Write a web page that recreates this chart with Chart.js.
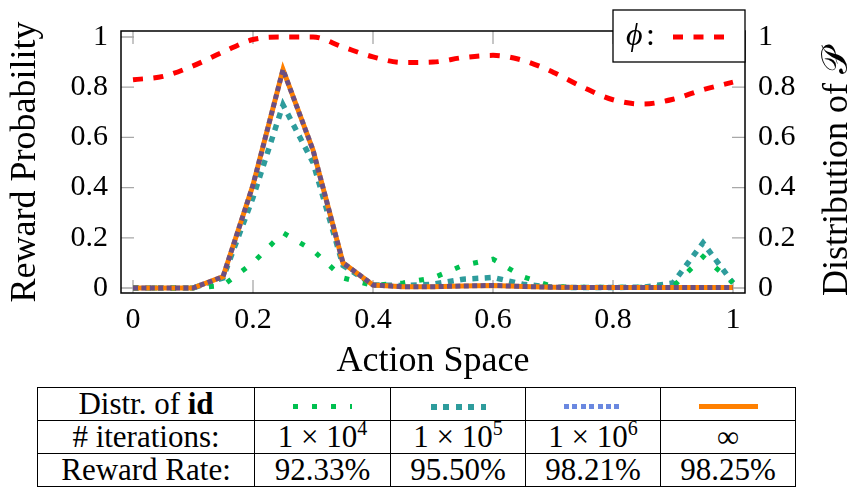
<!DOCTYPE html>
<html>
<head>
<meta charset="utf-8">
<script src="https://cdn.jsdelivr.net/npm/chart.js@4.4.1/dist/chart.umd.min.js"></script>
<style>
  body { margin: 0; background: #fff; width: 853px; height: 493px; overflow: hidden; font-family: "Liberation Serif", serif; }
  #wrap { position: absolute; left: 0; top: 0; width: 853px; height: 385px; }
  #tbl { position: absolute; left: 37px; top: 387px; border-collapse: collapse; font-family: "Liberation Serif", serif; font-size: 31px; }
  #tbl td { border: 1.5px solid #000; height: 32px; padding: 0; text-align: center; line-height: 32px; }
  #tbl sup { font-size: 20px; line-height: 0; vertical-align: 12px; }
  .sample { display: inline-block; vertical-align: middle; }
</style>
</head>
<body>
<div id="wrap"><canvas id="chart"></canvas></div>
<table id="tbl"><tbody></tbody></table>
<script>
// action space samples
const actions = [0, 0.05, 0.1, 0.15, 0.2, 0.25, 0.3, 0.35, 0.4, 0.45, 0.5, 0.55, 0.6, 0.65, 0.7, 0.75, 0.8, 0.85, 0.9, 0.95, 1];

// reward probability phi (right axis)
const phi = [0.83, 0.843, 0.885, 0.94, 0.99, 1.0, 1.0, 0.96, 0.921, 0.898, 0.90, 0.918, 0.927, 0.907, 0.86, 0.80, 0.75, 0.733, 0.752, 0.79, 0.82];

// distribution of id after n iterations
const iter1e4 = [0, 0, 0, 0.01, 0.10, 0.22, 0.15, 0.04, 0.01, 0.02, 0.04, 0.09, 0.115, 0.045, 0.005, 0.003, 0.003, 0.003, 0.005, 0.125, 0.02];
const iter1e5 = [0, 0, 0, 0.04, 0.36, 0.73, 0.50, 0.09, 0.012, 0.01, 0.015, 0.035, 0.042, 0.015, 0.003, 0.002, 0.002, 0.003, 0.02, 0.18, 0.02];
const iter1e6 = [0, 0, 0, 0.045, 0.41, 0.87, 0.55, 0.10, 0.012, 0.005, 0.005, 0.008, 0.01, 0.006, 0.003, 0.002, 0.002, 0.002, 0.002, 0.002, 0.002];
const iterInf = [0, 0, 0, 0.045, 0.41, 0.87, 0.55, 0.10, 0.012, 0.005, 0.005, 0.008, 0.01, 0.006, 0.003, 0.002, 0.002, 0.002, 0.002, 0.002, 0.002];

const tickValues = [0, 0.2, 0.4, 0.6, 0.8, 1];
const tickLabels = ["0", "0.2", "0.4", "0.6", "0.8", "1"];

// table
const iterationLabels = ["1 × 10<sup>4</sup>", "1 × 10<sup>5</sup>", "1 × 10<sup>6</sup>", "∞"];
const rewardRates = ["92.33%", "95.50%", "98.21%", "98.25%"];

const serif = "'Liberation Serif', serif";
const toPts = arr => arr.map((v, i) => ({ x: actions[i], y: v }));

const series = [
  { label: "phi", data: phi, color: "#ff0000", width: 5, dash: [10, 10.5], axis: "y2", order: 0, smooth: true },
  { label: "1e6", data: iter1e6, color: "rgba(50,60,180,0.72)", width: 5, dash: [5, 3.4], axis: "y", order: 1 },
  { label: "inf", data: iterInf, color: "#ff8000", width: 5, dash: [], axis: "y", order: 2 },
  { label: "1e4", data: iter1e4, color: "#00c050", width: 5, dash: [5, 14], axis: "y", order: 3 },
  { label: "1e5", data: iter1e5, color: "#2e9c9c", width: 5.5, dash: [6, 6.4], axis: "y", order: 4 }
];

function fixedTicks(scale) {
  scale.ticks = tickValues.map(v => ({ value: v }));
}

const frame = {
  id: "frame",
  beforeDatasetsDraw(chart) {
    const { ctx, chartArea: a, scales } = chart;
    ctx.save();
    ctx.strokeStyle = "#a8a8a8";
    ctx.lineWidth = 1.3;
    ctx.beginPath();
    tickValues.forEach(v => {
      const x = scales.x.getPixelForValue(v);
      ctx.moveTo(x, a.top); ctx.lineTo(x, a.top + 13);
      ctx.moveTo(x, a.bottom); ctx.lineTo(x, a.bottom - 13);
      const y = scales.y.getPixelForValue(v);
      ctx.moveTo(a.left, y); ctx.lineTo(a.left + 13, y);
      const y2 = scales.y2.getPixelForValue(v);
      ctx.moveTo(a.right, y2); ctx.lineTo(a.right - 13, y2);
    });
    ctx.stroke();
    ctx.restore();
  },
  afterDatasetsDraw(chart) {
    const { ctx, chartArea: a } = chart;
    ctx.save();
    ctx.strokeStyle = "#000";
    ctx.lineWidth = 1.5;
    ctx.strokeRect(a.left, a.top, a.right - a.left, a.bottom - a.top);
    // legend box for phi
    const bx = 613, by = 10, bw = a.right - 613, bh = 52;
    ctx.fillStyle = "#fff";
    ctx.fillRect(bx, by, bw, bh);
    ctx.lineWidth = 1.3;
    ctx.strokeRect(bx, by, bw, bh);
    ctx.fillStyle = "#000";
    ctx.font = "italic 32px " + serif;
    ctx.textBaseline = "middle";
    ctx.fillText("ϕ", bx + 13, by + bh / 2 + 1);
    ctx.font = "32px " + serif;
    ctx.fillText(":", bx + 33, by + bh / 2 + 1);
    const s = series[0];
    ctx.strokeStyle = s.color;
    ctx.lineWidth = s.width;
    ctx.setLineDash(s.dash);
    ctx.beginPath();
    ctx.moveTo(bx + 60, by + bh / 2 + 1);
    ctx.lineTo(bx + 112, by + bh / 2 + 1);
    ctx.stroke();
    ctx.setLineDash([]);
    // right axis title, read bottom to top
    ctx.translate(838, (a.top + a.bottom) / 2 + 10);
    ctx.rotate(-Math.PI / 2);
    ctx.font = "36px " + serif;
    ctx.textAlign = "center";
    ctx.fillText("Distribution of 𝒫", 0, 0);
    ctx.restore();
  }
};

new Chart(document.getElementById("chart"), {
  type: "line",
  data: {
    datasets: series.map(s => ({
      label: s.label,
      data: toPts(s.data),
      borderColor: s.color,
      borderWidth: s.width,
      borderDash: s.dash,
      borderCapStyle: "butt",
      pointRadius: 0,
      fill: false,
      yAxisID: s.axis,
      order: s.order,
      cubicInterpolationMode: s.smooth ? "monotone" : "default",
      tension: 0
    }))
  },
  options: {
    responsive: true,
    maintainAspectRatio: false,
    animation: false,
    events: [],
    layout: { padding: { top: 8, left: 0, right: 0, bottom: 0 } },
    plugins: { legend: { display: false }, tooltip: { enabled: false } },
    scales: {
      x: {
        type: "linear", min: -0.02, max: 1.02,
        afterBuildTicks: fixedTicks,
        afterFit: s => { s.height = 92; },
        grid: { display: false, drawTicks: false },
        border: { display: false },
        ticks: { color: "#000", font: { family: serif, size: 30 }, padding: 9, maxRotation: 0,
          callback: v => tickLabels[tickValues.indexOf(v)] },
        title: { display: true, text: "Action Space", color: "#000", font: { family: serif, size: 36 }, padding: { top: 2, bottom: 2 } }
      },
      y: {
        position: "left", min: -0.02, max: 1.024,
        afterBuildTicks: fixedTicks,
        afterFit: s => { s.width = 121; },
        grid: { display: false, drawTicks: false },
        border: { display: false },
        ticks: { color: "#000", font: { family: serif, size: 30 }, padding: 13,
          callback: v => tickLabels[tickValues.indexOf(v)] },
        title: { display: true, text: "Reward Probability", color: "#000", font: { family: serif, size: 36 }, padding: { top: 4, bottom: 0 } }
      },
      y2: {
        position: "right", min: -0.02, max: 1.024,
        afterBuildTicks: fixedTicks,
        afterFit: s => { s.width = 108; },
        grid: { display: false, drawTicks: false },
        border: { display: false },
        ticks: { color: "#000", font: { family: serif, size: 30 }, padding: 13,
          callback: v => tickLabels[tickValues.indexOf(v)] },
        title: { display: false }
      }
    }
  },
  plugins: [frame]
});

// table below the plot
const tbody = document.querySelector("#tbl tbody");
const widths = [216, 135, 134, 134, 134];
const sampleOf = s => {
  const period = s.dash.length ? s.dash[0] + s.dash[1] : 0;
  const bg = s.dash.length
    ? `repeating-linear-gradient(90deg, ${s.color} 0 ${s.dash[0]}px, transparent ${s.dash[0]}px ${period}px)`
    : s.color;
  const w = s.label === "1e5" ? 55 : 59;
  return `<span class="sample" style="width:${w}px;height:${Math.round(s.width)}px;background:${bg}"></span>`;
};
const tableSeries = ["1e4", "1e5", "1e6", "inf"].map(l => Object.assign({}, series.find(s => s.label === l)));
tableSeries[2].color = "#6a88e0";
const rows = [
  ["Distr. of <b>id</b>"].concat(tableSeries.map(sampleOf)),
  ["# iterations:"].concat(iterationLabels),
  ["Reward Rate:"].concat(rewardRates)
];
rows.forEach(r => {
  const tr = document.createElement("tr");
  r.forEach((c, i) => {
    const td = document.createElement("td");
    td.style.width = widths[i] + "px";
    td.innerHTML = c;
    tr.appendChild(td);
  });
  tbody.appendChild(tr);
});
</script>
</body>
</html>
